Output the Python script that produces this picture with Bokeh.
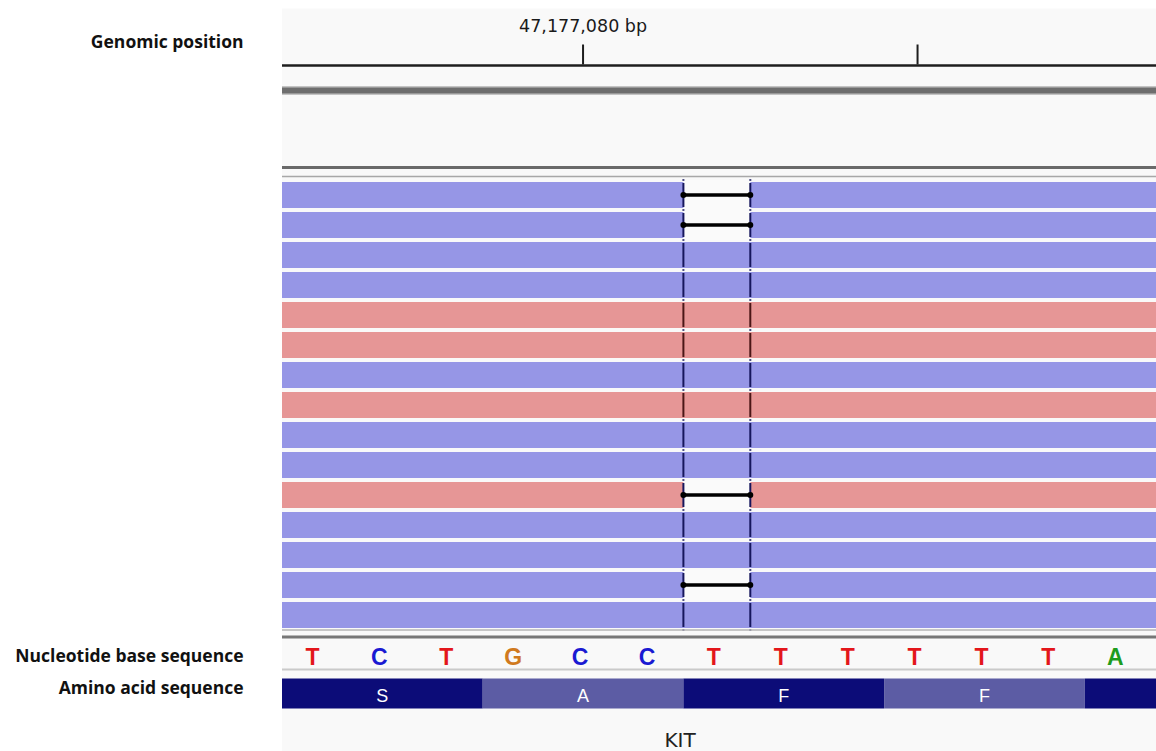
from bokeh.plotting import figure
from bokeh.models import Range1d
from bokeh.embed import file_html
from bokeh.resources import INLINE
from bokeh.core.properties import value

# ---------------- data ----------------
first_base_pos = 47177076                      # genomic position of first visible base
bases = list("TCTGCCTTTTTTA")                  # reference sequence shown
codon_starts = [47177076, 47177079, 47177082, 47177085, 47177088]
aa_labels = ["S", "A", "F", "F", ""]
ruler_ticks = [47177080, 47177085]
ruler_labels = ["47,177,080 bp", ""]
read_strand = ["-", "-", "-", "-", "+", "+", "-", "+", "-", "-", "+", "-", "-", "-", "-"]
deletion_rows = [0, 1, 10, 13]
deletion_pos = 47177082
deletion_len = 1
gene_name = "KIT"
gene_label_pos = 47177081.45
track_labels = ["Genomic position", "Nucleotide base sequence", "Amino acid sequence"]

# ---------------- layout / style ----------------
W, H = 1156, 751
PX_PER_BP = 66.9
PANEL_LEFT_PX = 281.5
LABEL_RIGHT_PX = 243
panel_x0 = first_base_pos - 0.5
x_left = panel_x0 - PANEL_LEFT_PX / PX_PER_BP
x_right = x_left + W / PX_PER_BP
label_x = x_left + LABEL_RIGHT_PX / PX_PER_BP

ROW_TOP0, ROW_PITCH, ROW_H = 181.5, 30.0, 26.0
STRAND_FILL = {"+": "#e69696", "-": "#9696e6"}
STRAND_EDGE = {"+": "#4a1616", "-": "#16165c"}
BASE_COLORS = {"A": "#1e9c1e", "C": "#1a1ad2", "G": "#d07a1e", "T": "#e3161b"}
AA_COLORS = ["#0c0c78", "#5c5ca4"]

p = figure(width=W, height=H, x_range=Range1d(x_left, x_right), y_range=Range1d(H, 0),
           output_backend="svg", toolbar_location=None, min_border=0)
p.axis.visible = False
p.grid.visible = False
p.outline_line_color = None
p.background_fill_color = "white"
p.border_fill_color = "white"

# panel background
p.quad(left=[panel_x0], right=[x_right], top=[8], bottom=[H], fill_color="#f9f9f9", line_color=None)

# ruler
p.segment(x0=[panel_x0], x1=[x_right], y0=[65], y1=[65], line_width=2.5, line_color="#1e1e1e")
p.segment(x0=ruler_ticks, x1=ruler_ticks, y0=[44] * len(ruler_ticks), y1=[64] * len(ruler_ticks),
          line_width=2, line_color="#1e1e1e")
p.text(x=ruler_ticks, y=[25] * len(ruler_ticks), text=ruler_labels, text_align="center",
       text_baseline="alphabetic", text_font=value("DejaVu Sans"), text_font_size="17.5px",
       text_color="#1a1a1a")

# separator bars
p.segment(x0=[panel_x0], x1=[x_right], y0=[90], y1=[90], line_width=9, line_color="#c4c4c4")
p.segment(x0=[panel_x0], x1=[x_right], y0=[90], y1=[90], line_width=6, line_color="#6e6e6e")
p.segment(x0=[panel_x0], x1=[x_right], y0=[167], y1=[167], line_width=3, line_color="#6a6a6a")
p.segment(x0=[panel_x0], x1=[x_right], y0=[176], y1=[176], line_width=1.5, line_color="#a8a8a8")

# reads
n = len(read_strand)
tops = [ROW_TOP0 + i * ROW_PITCH for i in range(n)]
bots = [t + ROW_H for t in tops]
p.quad(left=[panel_x0] * n, right=[x_right] * n, top=tops, bottom=bots,
       fill_color=[STRAND_FILL[s] for s in read_strand], line_color=None)

del_l = deletion_pos - 0.5
del_r = del_l + deletion_len
# deletion gaps
dt = [tops[r] - 2 for r in deletion_rows]
db = [bots[r] + 2 for r in deletion_rows]
p.quad(left=[del_l] * len(deletion_rows), right=[del_r] * len(deletion_rows), top=dt, bottom=db,
       fill_color="#fafafa", line_color=None)

# dashed edges of deletion column
edge_cols = [STRAND_EDGE["-"] if i in deletion_rows else STRAND_EDGE[s] for i, s in enumerate(read_strand)]
for xe in (del_l, del_r):
    p.segment(x0=[xe] * n, x1=[xe] * n, y0=[t + 1 for t in tops], y1=[b - 1 for b in bots],
              line_width=2, line_color=edge_cols)
    dots_y = [t - 2 for t in tops] + [bots[-1] + 2]
    p.rect(x=[xe] * len(dots_y), y=dots_y, width=2, height=1.5, width_units="screen",
           height_units="data", fill_color="#16165c", line_color=None)

# deletion lines
mids = [tops[r] + ROW_H / 2 for r in deletion_rows]
p.segment(x0=[del_l] * len(mids), x1=[del_r] * len(mids), y0=mids, y1=mids,
          line_width=3.5, line_color="black")
p.scatter(x=[del_l] * len(mids) + [del_r] * len(mids), y=mids + mids, size=6,
          fill_color="black", line_color=None)

# separators around the sequence track
p.segment(x0=[panel_x0], x1=[x_right], y0=[629.5], y1=[629.5], line_width=1.5, line_color="#b4b4b4")
p.segment(x0=[panel_x0], x1=[x_right], y0=[636.5], y1=[636.5], line_width=3, line_color="#777777")
p.segment(x0=[panel_x0], x1=[x_right], y0=[669], y1=[669], line_width=2, line_color="#cacaca")

# sequence
seq_x = [first_base_pos + i for i in range(len(bases))]
p.text(x=seq_x, y=[656] * len(bases), text=bases, text_align="center", text_baseline="alphabetic",
       x_offset=-3, text_font=value("Liberation Sans"), text_font_style="bold", text_font_size="23px",
       text_color=[BASE_COLORS[b] for b in bases])

# amino acids
nc = len(codon_starts)
p.quad(left=[c - 0.5 for c in codon_starts], right=[c + 2.5 for c in codon_starts],
       top=[678] * nc, bottom=[708] * nc,
       fill_color=[AA_COLORS[i % 2] for i in range(nc)], line_color=None)
p.text(x=[c + 1 for c in codon_starts], y=[695] * nc, text=aa_labels, text_align="center",
       text_baseline="alphabetic", text_font=value("Liberation Sans"), text_font_size="18px",
       text_color="white")

# gene name
p.text(x=[gene_label_pos], y=[739], text=[gene_name], text_align="center", text_baseline="alphabetic",
       text_font=value("DejaVu Sans"), text_font_size="20px", text_color="#222222")

# track labels on the left
p.text(x=[label_x] * 3, y=[40, 654, 686], text=track_labels, text_align="right",
       text_baseline="alphabetic", text_font=value("Open Sans"), text_font_style="bold",
       text_font_size="17.5px", text_color="#111111")

open("out.html", "w").write(file_html(p, INLINE))
